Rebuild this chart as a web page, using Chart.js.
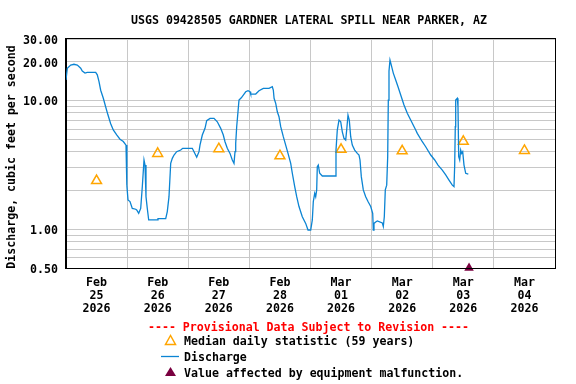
<!DOCTYPE html>
<html>
<head>
<meta charset="utf-8">
<script src="https://cdn.jsdelivr.net/npm/chart.js@4/dist/chart.umd.min.js"></script>
<style>
body { margin: 0; background: #fff; }
</style>
</head>
<body>
<canvas id="grafico" width="576" height="384"></canvas>
<script>
// DADOS (hours since Feb 25 00:00)
var hours = [0, 0.51, 1.85, 3.14, 4.44, 5.77, 6.4, 7.46, 8.36, 11.66, 12.29, 12.96, 13.62, 14.65, 15.59, 16.49, 17.55, 18.57, 19.91, 21.2, 22.5, 23.56, 23.83, 23.95, 24.34, 25.13, 26.03, 27.37, 27.76, 28.54, 29.33, 29.96, 30.63, 31.02, 31.41, 31.92, 32.47, 35.85, 36.12, 39.15, 39.77, 40.44, 41.11, 41.74, 42.41, 43.46, 45.04, 45.82, 49.59, 50.26, 51.32, 52.22, 52.61, 53.52, 54.58, 55.24, 56.54, 58.11, 59.41, 60.74, 61.76, 62.43, 63.33, 64.39, 65.3, 65.96, 66.36, 66.63, 67.02, 67.53, 67.93, 68.83, 69.62, 70.56, 71.46, 72.25, 72.52, 74.49, 75.78, 77.47, 79.71, 81.0, 81.4, 81.7, 82.34, 82.97, 83.63, 84.3, 85.32, 86.26, 87.17, 88.23, 88.86, 89.8, 90.58, 91.48, 92.78, 94.11, 95.02, 96.08, 96.71, 97.1, 97.65, 98.04, 98.43, 98.67, 99.06, 99.61, 100.63, 105.62, 106.01, 106.52, 107.19, 107.86, 108.49, 109.15, 109.82, 110.21, 110.72, 111.23, 111.78, 112.41, 113.35, 114.38, 115.04, 115.44, 115.95, 116.73, 117.67, 118.58, 119.64, 120.42, 120.66, 120.93, 121.6, 122.23, 124.19, 124.58, 124.98, 125.37, 125.92, 126.31, 126.55, 126.82, 127.21, 127.72, 128.51, 129.45, 130.36, 131.42, 132.71, 134.01, 135.34, 137.31, 137.93, 139.9, 141.23, 143.2, 144.77, 146.06, 147.75, 149.09, 150.38, 151.68, 152.34, 152.62, 152.85, 153.01, 153.64, 153.91, 154.19, 154.58, 154.97, 155.36, 155.76, 156.27, 156.94, 157.96];
var cfs = [14.4, 17.8, 18.8, 19.1, 18.8, 17.8, 16.9, 16.3, 16.5, 16.5, 15.8, 14.0, 12.0, 10.4, 8.9, 7.7, 6.6, 5.9, 5.4, 5.0, 4.8, 4.5, 4.1, 2.2, 1.69, 1.64, 1.45, 1.43, 1.41, 1.33, 1.45, 2.14, 3.45, 3.15, 1.79, 1.45, 1.18, 1.18, 1.21, 1.21, 1.37, 1.79, 3.25, 3.55, 3.77, 4.0, 4.12, 4.25, 4.25, 4.0, 3.62, 4.0, 4.5, 5.39, 6.07, 6.96, 7.26, 7.26, 6.83, 6.07, 5.39, 4.78, 4.25, 3.88, 3.45, 3.25, 4.0, 4.64, 6.25, 8.17, 10.07, 10.49, 11.01, 11.68, 11.89, 11.68, 11.21, 11.21, 11.89, 12.42, 12.42, 12.78, 12.04, 10.4, 9.49, 8.17, 7.47, 6.25, 5.23, 4.5, 3.88, 3.25, 2.72, 2.14, 1.79, 1.5, 1.25, 1.11, 0.986, 0.986, 1.18, 1.64, 1.9, 1.79, 2.02, 3.06, 3.15, 2.72, 2.59, 2.59, 4.12, 5.89, 7.04, 6.83, 5.71, 5.08, 4.93, 5.89, 7.7, 7.04, 5.23, 4.5, 4.12, 3.88, 3.77, 3.45, 2.56, 2.02, 1.79, 1.64, 1.5, 1.33, 0.986, 1.11, 1.14, 1.16, 1.12, 1.05, 1.25, 2.02, 2.2, 3.66, 10.07, 16.9, 20.6, 18.8, 16.3, 14.4, 12.78, 11.01, 9.21, 7.94, 7.04, 5.89, 5.55, 4.78, 4.37, 3.77, 3.45, 3.15, 2.88, 2.64, 2.41, 2.2, 2.14, 3.15, 6.25, 10.07, 10.38, 8.93, 3.66, 3.45, 4.12, 3.88, 4.0, 3.15, 2.72, 2.68];

var medianHours = [12, 36, 60, 84, 108, 132, 156, 180];
var medianCfs = [2.38, 3.87, 4.21, 3.71, 4.16, 4.05, 4.8, 4.08];

var malfHours = [158.25];
var malfCfs = [0.5];

var dayLabels = [
  ['Feb', '25', '2026'], ['Feb', '26', '2026'], ['Feb', '27', '2026'], ['Feb', '28', '2026'],
  ['Mar', '01', '2026'], ['Mar', '02', '2026'], ['Mar', '03', '2026'], ['Mar', '04', '2026']
];
var yTicks = [0.5, 0.6, 0.7, 0.8, 0.9, 1, 2, 3, 4, 5, 6, 7, 8, 9, 10, 20, 30];
var yLabelled = [0.5, 1, 10, 20, 30];

var FONT = '"DejaVu Sans Mono", monospace';
var fnt = { family: FONT, size: 11.6, weight: 'bold', lineHeight: 1.1 };

function pts(xs, ys) {
  return xs.map(function (x, i) { return { x: x, y: ys[i] }; });
}

// titulo, eixo y, moldura e legenda
var extras = {
  id: 'extras',
  afterDraw: function (chart) {
    var c = chart.ctx, a = chart.chartArea;
    c.save();
    c.strokeStyle = '#000';
    c.lineWidth = 1;
    c.strokeRect(Math.round(a.left) - 0.5, Math.round(a.top) - 0.5, a.right - a.left + 1, a.bottom - a.top + 1);

    c.font = 'bold 11.6px ' + FONT;
    c.fillStyle = '#000';
    c.textAlign = 'center';
    c.textBaseline = 'middle';
    c.fillText('USGS 09428505 GARDNER LATERAL SPILL NEAR PARKER, AZ', 309, 21);

    c.save();
    c.translate(12, 157);
    c.rotate(-Math.PI / 2);
    c.fillText('Discharge, cubic feet per second', 0, 0);
    c.restore();

    c.fillStyle = '#ff0000';
    c.fillText('---- Provisional Data Subject to Revision ----', 308.5, 328);

    c.textAlign = 'left';
    c.fillStyle = '#000';
    c.fillText('Median daily statistic (59 years)', 184, 342);
    c.fillText('Discharge', 184, 358);
    c.fillText('Value affected by equipment malfunction.', 184, 374);

    // icones
    c.strokeStyle = '#ffa500';
    c.lineWidth = 1.5;
    c.beginPath();
    c.moveTo(170.5, 335.5); c.lineTo(165.5, 344.5); c.lineTo(175.5, 344.5); c.closePath();
    c.stroke();

    c.strokeStyle = '#0b84d3';
    c.lineWidth = 1.3;
    c.beginPath();
    c.moveTo(161, 356.5); c.lineTo(179, 356.5);
    c.stroke();

    c.fillStyle = '#7a0040';
    c.beginPath();
    c.moveTo(170.5, 367); c.lineTo(165, 376); c.lineTo(176, 376); c.closePath();
    c.fill();
    c.restore();
  }
};

new Chart(document.getElementById('grafico'), {
  type: 'line',
  data: {
    datasets: [{
      label: 'Discharge',
      data: pts(hours, cfs),
      borderColor: '#0b84d3',
      borderWidth: 1.3,
      pointRadius: 0,
      tension: 0
    }, {
      label: 'Median daily statistic (59 years)',
      data: pts(medianHours, medianCfs),
      showLine: false,
      pointStyle: 'triangle',
      pointRadius: 5.7,
      borderColor: '#ffa500',
      backgroundColor: 'rgba(0,0,0,0)',
      pointBorderWidth: 1.5
    }, {
      label: 'Value affected by equipment malfunction.',
      data: pts(malfHours, malfCfs),
      showLine: false,
      clip: false,
      pointStyle: 'triangle',
      pointRadius: 5.5,
      borderColor: '#7a0040',
      backgroundColor: '#7a0040',
      pointBorderWidth: 0
    }]
  },
  options: {
    responsive: false,
    animation: false,
    devicePixelRatio: 1,
    layout: { padding: { left: 0, right: 21, top: 39, bottom: 0 } },
    plugins: { legend: { display: false }, tooltip: { enabled: false } },
    scales: {
      x: {
        type: 'linear',
        min: 0,
        max: 192,
        afterBuildTicks: function (s) {
          s.ticks = [];
          for (var h = 0; h <= 192; h += 12) s.ticks.push({ value: h });
        },
        afterFit: function (s) { s.height = 116; },
        grid: {
          drawTicks: false,
          color: function (ctx) {
            return ctx.tick && ctx.tick.value % 24 === 0 ? '#c8c8c8' : 'rgba(0,0,0,0)';
          }
        },
        border: { color: '#000' },
        ticks: {
          autoSkip: false,
          maxRotation: 0,
          padding: 9,
          color: '#000',
          font: fnt,
          callback: function (v) {
            return v % 24 === 12 ? dayLabels[(v - 12) / 24] : '';
          }
        }
      },
      y: {
        type: 'logarithmic',
        min: 0.5,
        max: 30,
        afterBuildTicks: function (s) {
          s.ticks = yTicks.map(function (v) { return { value: v }; });
        },
        afterFit: function (s) { s.width = 66; },
        grid: { drawTicks: false, color: '#c8c8c8' },
        border: { color: '#000' },
        ticks: {
          autoSkip: false,
          padding: 8,
          labelOffset: 2,
          color: '#000',
          font: fnt,
          callback: function (v) {
            return yLabelled.indexOf(v) >= 0 ? v.toFixed(2) : '';
          }
        }
      }
    }
  },
  plugins: [extras]
});
</script>
</body>
</html>
